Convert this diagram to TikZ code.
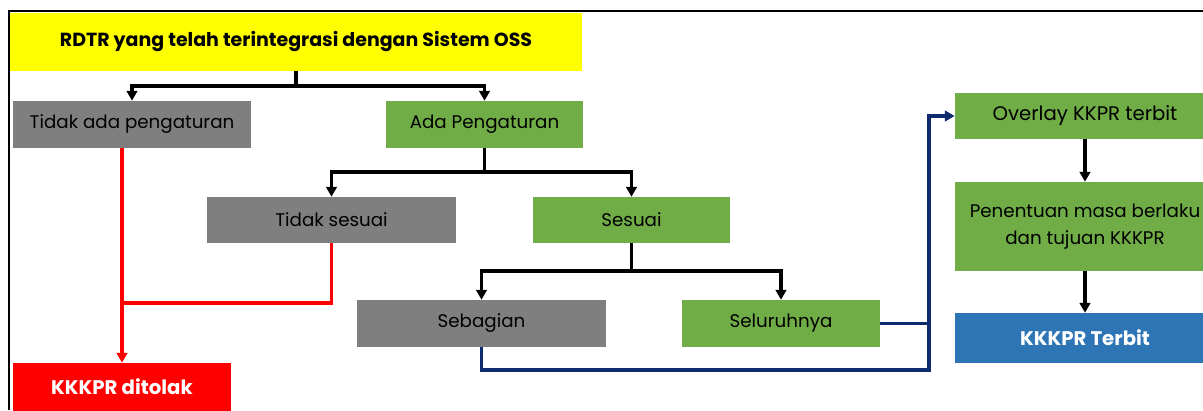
\documentclass[tikz,border=0pt]{standalone}
\usepackage{fontspec}
\setmainfont{Poppins}
\usepackage{xcolor}
\usetikzlibrary{arrows.meta}

\definecolor{boxyellow}{HTML}{FFFF00}
\definecolor{boxgray}{HTML}{7F7F7F}
\definecolor{boxgreen}{HTML}{70AD47}
\definecolor{boxred}{HTML}{FF0000}
\definecolor{boxblue}{HTML}{2E75B6}
\definecolor{linknavy}{HTML}{0D2B6E}

\tikzset{
  box/.style={rectangle, inner sep=0pt, align=center, font=\fontsize{13}{19.5}\selectfont},
  graybox/.style={box, fill=boxgray},
  greenbox/.style={box, fill=boxgreen},
  boldbox/.style={box, text=white, font=\fontsize{14}{17}\selectfont\bfseries},
  link/.style={line width=2.4pt, black},
  linkarrow/.style={link, -{Triangle[length=7pt,width=7.5pt]}},
}

\begin{document}
\begin{tikzpicture}[x=0.025cm, y=-0.025cm]
  \useasboundingbox (0,0) rectangle (1203,410);
  % frame
  \draw[line width=1.5pt] (9,410) -- (9,11) -- (1203,11);

  % boxes
  \node[box, fill=boxyellow, minimum width=14.3cm, minimum height=1.45cm,
        font=\fontsize{13.5}{16}\selectfont\bfseries] (rdtr) at (296,42)
    {RDTR yang telah terintegrasi dengan Sistem OSS};
  \node[graybox, minimum width=5.95cm, minimum height=1.175cm] (noreg) at (132,124.5) {Tidak ada pengaturan};
  \node[greenbox, minimum width=4.925cm, minimum height=1.175cm] (reg) at (484.5,124.5) {Ada Pengaturan};
  \node[graybox, minimum width=6.225cm, minimum height=1.15cm] (nofit) at (331.5,220) {Tidak sesuai};
  \node[greenbox, minimum width=4.925cm, minimum height=1.15cm] (fit) at (631.5,220) {Sesuai};
  \node[graybox, minimum width=6.225cm, minimum height=1.175cm] (part) at (481.5,323.5) {Sebagian};
  \node[greenbox, minimum width=4.95cm, minimum height=1.175cm] (whole) at (781,323.5) {Seluruhnya};
  \node[boldbox, fill=boxred, minimum width=5.45cm, minimum height=1.2cm] (reject) at (122,387) {KKKPR ditolak};
  \node[greenbox, minimum width=6.5cm, minimum height=1.15cm,
        font=\fontsize{14}{17}\selectfont] (overlay) at (1085,116) {Overlay KKPR terbit};
  \node[greenbox, minimum width=6.5cm, minimum height=2.225cm] (period) at (1085,226.5)
    {Penentuan masa berlaku\\dan tujuan KKKPR};
  \node[boldbox, fill=boxblue, minimum width=6.5cm, minimum height=1.25cm] (issued) at (1085,338) {KKKPR Terbit};

  % junctions
  \coordinate (j1) at (296,86);
  \coordinate (j2) at (484.5,172);
  \coordinate (j3) at (631.5,271);
  \coordinate (j4) at (122,303);
  \coordinate (j5) at (929,323.5);
  \coordinate (j6) at (929,370);

  % tree
  \draw[link] (rdtr.south) -- (j1);
  \draw[linkarrow] (j1) -| (noreg.north);
  \draw[linkarrow] (j1) -| (reg.north);
  \draw[link] (reg.south) -- (j2);
  \draw[linkarrow] (j2) -| (nofit.north);
  \draw[linkarrow] (j2) -| (fit.north);
  \draw[link] (fit.south) -- (j3);
  \draw[linkarrow] (j3) -| (part.north);
  \draw[linkarrow] (j3) -| (whole.north);

  % rejected
  \draw[linkarrow, boxred] (reject.north |- noreg.south) -- (reject.north);
  \draw[link, boxred] (nofit.south) |- (j4);

  % issued
  \draw[linkarrow, linknavy] (whole.east) -- (j5) |- (overlay.west);
  \draw[link, linknavy] (part.south) |- (j6) -- (j5);
  \draw[linkarrow] (overlay.south) -- (period.north);
  \draw[linkarrow] (period.south) -- (issued.north);
\end{tikzpicture}
\end{document}
